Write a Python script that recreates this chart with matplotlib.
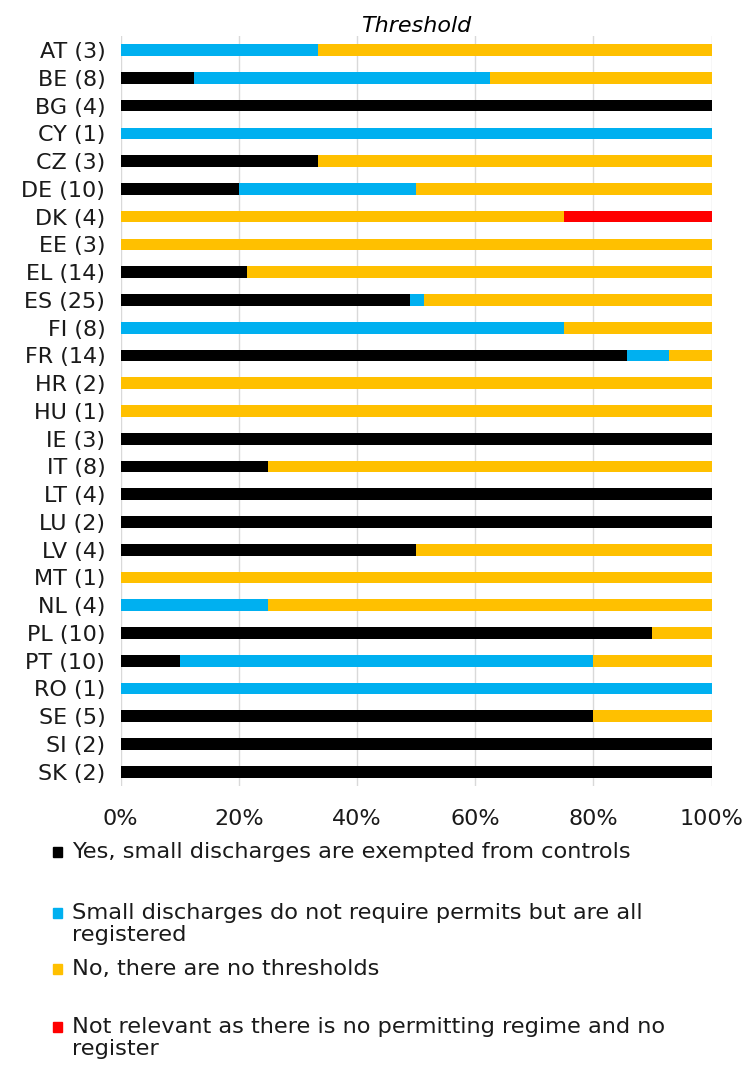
import numpy as np
import matplotlib.pyplot as plt
from matplotlib.patches import Rectangle

countries = ["AT (3)", "BE (8)", "BG (4)", "CY (1)", "CZ (3)", "DE (10)", "DK (4)", "EE (3)",
             "EL (14)", "ES (25)", "FI (8)", "FR (14)", "HR (2)", "HU (1)", "IE (3)", "IT (8)",
             "LT (4)", "LU (2)", "LV (4)", "MT (1)", "NL (4)", "PL (10)", "PT (10)", "RO (1)",
             "SE (5)", "SI (2)", "SK (2)"]

exempted = [0, 1/8, 1, 0, 1/3, 0.2, 0, 0, 3/14, 0.49, 0, 12/14, 0, 0, 1, 0.25,
            1, 1, 0.5, 0, 0, 0.9, 0.1, 0, 0.8, 1, 1]
registered = [1/3, 0.5, 0, 1, 0, 0.3, 0, 0, 0, 0.023, 0.75, 1/14, 0, 0, 0, 0,
              0, 0, 0, 0, 0.25, 0, 0.7, 1, 0, 0, 0]
no_threshold = [2/3, 3/8, 0, 0, 2/3, 0.5, 0.75, 1, 11/14, 0.487, 0.25, 1/14, 1, 1, 0, 0.75,
                0, 0, 0.5, 1, 0.75, 0.1, 0.2, 0, 0.2, 0, 0]
not_relevant = [0, 0, 0, 0, 0, 0, 0.25, 0, 0, 0, 0, 0, 0, 0, 0, 0,
                0, 0, 0, 0, 0, 0, 0, 0, 0, 0, 0]

labels = ["Yes, small discharges are exempted from controls",
          "Small discharges do not require permits but are all\nregistered",
          "No, there are no thresholds",
          "Not relevant as there is no permitting regime and no\nregister"]
colors = ["#000000", "#00B0F0", "#FFC000", "#FF0000"]

fig = plt.figure(figsize=(7.49, 10.66), dpi=100)
ax = fig.add_axes([0.161, 0.263, 0.789, 0.703])

y = np.arange(len(countries))
left = np.zeros(len(countries))
for vals, c in zip([exempted, registered, no_threshold, not_relevant], colors):
    vals = np.array(vals)
    ax.barh(y, vals, left=left, height=0.42, color=c)
    left += vals

ax.set_ylim(len(countries) - 0.5, -0.5)
ax.set_xlim(0, 1)
ax.set_yticks(y)
ax.set_yticklabels(countries, fontsize=16, color="#1a1a1a")
ax.set_xticks(np.linspace(0, 1, 6))
ax.set_xticklabels([f"{int(v*100)}%" for v in np.linspace(0, 1, 6)], fontsize=16, color="#1a1a1a")
ax.tick_params(length=0, pad=11)
ax.tick_params(axis="x", pad=17)
ax.grid(axis="x", color="#D9D9D9", linewidth=1)
ax.set_axisbelow(True)
for s in ax.spines.values():
    s.set_visible(False)
ax.set_title("Threshold", fontsize=16, style="italic", pad=1)

# legend drawn by hand to follow the uneven spacing
legend_y = [852, 913, 969, 1027]
line_gap = 22
for lab, c, ly in zip(labels, colors, legend_y):
    for i, line in enumerate(lab.split("\n")):
        fig.text(72 / 749, 1 - (ly + i * line_gap) / 1066, line, fontsize=16.2,
                 va="center", ha="left", color="#1a1a1a")
    fig.patches.append(Rectangle((53 / 749, 1 - (ly + 5) / 1066), 9 / 749, 10 / 1066,
                                 transform=fig.transFigure, color=c, figure=fig))

fig.savefig("out.png", dpi=100)
